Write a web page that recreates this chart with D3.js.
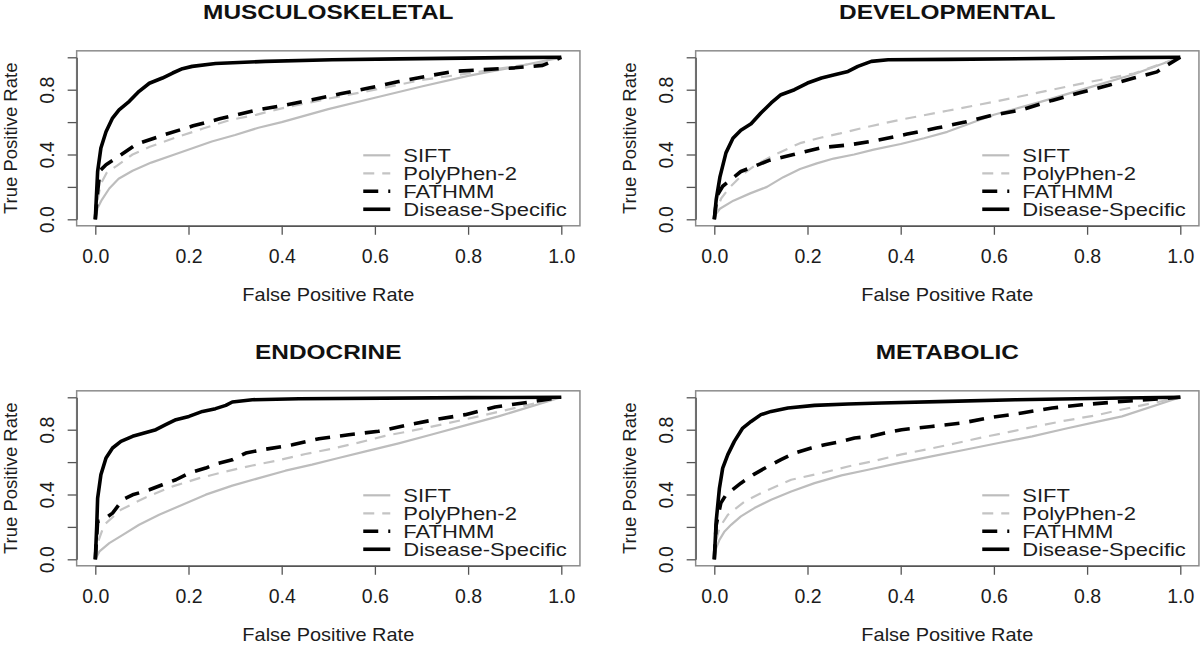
<!DOCTYPE html>
<html>
<head>
<meta charset="utf-8">
<script src="https://cdn.jsdelivr.net/npm/d3@7"></script>
<style>
  body { margin: 0; background: #fff; }
  svg { display: block; font-family: "Liberation Sans", Arial, sans-serif; }
</style>
</head>
<body>
<div id="chart"></div>
<script>
// ROC curves, four disease classes, four predictors each

const panelTitles = ['MUSCULOSKELETAL', 'DEVELOPMENTAL', 'ENDOCRINE', 'METABOLIC'];
const seriesNames = ['SIFT', 'PolyPhen-2', 'FATHMM', 'Disease-Specific'];
const xTicks = [0, 0.2, 0.4, 0.6, 0.8, 1.0];
const yTicks = [0, 0.2, 0.4, 0.6, 0.8, 1.0];
const yTickLabels = ['0.0', '', '0.4', '', '0.8', ''];

// [false positive rate, true positive rate]
const muscSift = [[0,0],[0.005,0.07],[0.014,0.12],[0.03,0.19],[0.05,0.25],[0.08,0.3],[0.12,0.35],[0.17,0.4],[0.21,0.44],[0.25,0.48],[0.3,0.52],[0.35,0.565],[0.4,0.6],[0.5,0.68],[0.6,0.75],[0.7,0.82],[0.8,0.885],[0.9,0.94],[1,1]];
const muscPoly = [[0,0],[0.005,0.12],[0.012,0.22],[0.025,0.29],[0.046,0.33],[0.08,0.4],[0.117,0.448],[0.174,0.506],[0.231,0.56],[0.288,0.612],[0.345,0.645],[0.4,0.685],[0.5,0.745],[0.6,0.8],[0.7,0.86],[0.8,0.9],[0.9,0.945],[0.95,0.965],[1,1]];
const muscFath = [[0,0],[0.005,0.17],[0.01,0.3],[0.023,0.337],[0.0385,0.366],[0.0885,0.464],[0.146,0.52],[0.21,0.577],[0.267,0.62],[0.345,0.674],[0.4,0.701],[0.465,0.738],[0.526,0.775],[0.587,0.81],[0.651,0.85],[0.712,0.884],[0.769,0.913],[0.822,0.922],[0.9,0.935],[0.96,0.95],[1,1]];
const muscDis = [[0,0],[0.005,0.295],[0.012,0.44],[0.023,0.54],[0.037,0.625],[0.051,0.676],[0.073,0.728],[0.094,0.79],[0.116,0.84],[0.144,0.872],[0.166,0.903],[0.187,0.93],[0.208,0.944],[0.258,0.962],[0.365,0.975],[0.508,0.985],[0.651,0.99],[0.88,0.998],[1,1]];

const devSift = [[0,0],[0.003,0.03],[0.012,0.065],[0.041,0.115],[0.077,0.16],[0.113,0.2],[0.148,0.26],[0.184,0.31],[0.22,0.345],[0.256,0.375],[0.3,0.4],[0.342,0.43],[0.4,0.465],[0.45,0.5],[0.5,0.54],[0.6,0.645],[0.7,0.725],[0.8,0.81],[0.9,0.895],[1,1]];
const devPoly = [[0,0],[0.005,0.06],[0.015,0.13],[0.034,0.2],[0.062,0.28],[0.091,0.34],[0.134,0.405],[0.184,0.47],[0.23,0.505],[0.27,0.53],[0.32,0.565],[0.4,0.615],[0.5,0.67],[0.6,0.725],[0.7,0.785],[0.8,0.845],[0.9,0.9],[0.95,0.95],[1,1]];
const devFath = [[0,0],[0.004,0.1],[0.007,0.151],[0.018,0.204],[0.057,0.295],[0.119,0.365],[0.17,0.4],[0.23,0.442],[0.291,0.46],[0.35,0.488],[0.414,0.526],[0.477,0.563],[0.538,0.6],[0.595,0.641],[0.66,0.676],[0.725,0.734],[0.782,0.78],[0.846,0.827],[0.9,0.872],[0.95,0.91],[0.965,0.94],[1,1]];
const devDis = [[0,0],[0.004,0.12],[0.012,0.26],[0.025,0.41],[0.04,0.5],[0.057,0.55],[0.079,0.59],[0.1,0.656],[0.122,0.718],[0.143,0.769],[0.172,0.8],[0.2,0.841],[0.23,0.872],[0.258,0.893],[0.287,0.913],[0.308,0.944],[0.337,0.975],[0.373,0.985],[0.502,0.987],[0.875,0.998],[1,1]];

const endoSift = [[0,0],[0.009,0.049],[0.03,0.1],[0.059,0.151],[0.094,0.213],[0.137,0.275],[0.187,0.337],[0.237,0.399],[0.294,0.455],[0.351,0.501],[0.408,0.547],[0.465,0.584],[0.522,0.625],[0.58,0.666],[0.651,0.716],[0.722,0.77],[0.794,0.827],[0.865,0.882],[1,1]];
const endoPoly = [[0,0],[0.005,0.1],[0.019,0.213],[0.055,0.306],[0.108,0.382],[0.166,0.45],[0.223,0.501],[0.28,0.542],[0.337,0.579],[0.394,0.612],[0.451,0.65],[0.508,0.683],[0.565,0.72],[0.622,0.762],[0.68,0.794],[0.758,0.841],[0.865,0.91],[1,1]];
const endoFath = [[0,0],[0.005,0.234],[0.015,0.24],[0.037,0.285],[0.059,0.368],[0.08,0.398],[0.116,0.429],[0.144,0.46],[0.173,0.491],[0.201,0.532],[0.237,0.563],[0.258,0.588],[0.294,0.614],[0.323,0.656],[0.358,0.676],[0.423,0.707],[0.48,0.744],[0.544,0.769],[0.608,0.79],[0.672,0.831],[0.729,0.862],[0.794,0.893],[0.858,0.94],[0.93,0.97],[1,1]];
const endoDis = [[0,0],[0.003,0.2],[0.005,0.377],[0.012,0.522],[0.023,0.625],[0.037,0.687],[0.055,0.728],[0.08,0.759],[0.105,0.779],[0.13,0.8],[0.151,0.831],[0.173,0.862],[0.201,0.882],[0.23,0.913],[0.258,0.93],[0.28,0.95],[0.294,0.971],[0.337,0.985],[0.437,0.991],[0.8,0.998],[1,1]];

const metaSift = [[0,0],[0.004,0.069],[0.011,0.12],[0.022,0.172],[0.036,0.213],[0.057,0.265],[0.086,0.316],[0.122,0.368],[0.165,0.419],[0.215,0.47],[0.273,0.518],[0.33,0.553],[0.395,0.594],[0.466,0.635],[0.538,0.676],[0.61,0.718],[0.682,0.759],[0.753,0.806],[0.825,0.851],[0.875,0.882],[1,1]];
const metaPoly = [[0,0],[0.004,0.12],[0.012,0.2],[0.029,0.274],[0.065,0.357],[0.108,0.419],[0.165,0.491],[0.23,0.532],[0.287,0.573],[0.344,0.608],[0.402,0.648],[0.459,0.68],[0.516,0.715],[0.574,0.752],[0.631,0.785],[0.689,0.82],[0.753,0.856],[0.818,0.888],[0.875,0.925],[1,1]];
const metaFath = [[0,0],[0.004,0.21],[0.014,0.347],[0.025,0.398],[0.057,0.47],[0.086,0.526],[0.115,0.573],[0.143,0.615],[0.172,0.656],[0.208,0.687],[0.237,0.707],[0.273,0.728],[0.301,0.749],[0.337,0.759],[0.366,0.779],[0.402,0.8],[0.466,0.82],[0.531,0.841],[0.595,0.876],[0.66,0.903],[0.725,0.934],[0.789,0.954],[0.861,0.971],[1,1]];
const metaDis = [[0,0],[0.004,0.234],[0.011,0.439],[0.018,0.563],[0.029,0.646],[0.043,0.728],[0.061,0.81],[0.079,0.851],[0.1,0.893],[0.122,0.913],[0.158,0.934],[0.215,0.95],[0.287,0.959],[0.359,0.965],[0.502,0.975],[0.646,0.985],[0.875,0.996],[1,1]];

const panelData = [
    [muscSift, muscPoly, muscFath, muscDis],
    [devSift, devPoly, devFath, devDis],
    [endoSift, endoPoly, endoFath, endoDis],
    [metaSift, metaPoly, metaFath, metaDis]
];

// line styles per series (SIFT, PolyPhen-2, FATHMM, Disease-Specific)
const styles = [
    { color: '#bdbdbd', width: 2.2, dash: null },
    { color: '#c4c4c4', width: 2.2, dash: '11,8' },
    { color: '#000', width: 3.6, dash: '15,10' },
    { color: '#000', width: 3.6, dash: null }
];

const W = 1200, H = 646;
const svg = d3.select('#chart').append('svg')
    .attr('width', W)
    .attr('height', H);

const textColor = '#1c1c1c';
const colX = [95.3, 714.3];
const rowY = [57.3, 397.3];
const plotW = 466, plotH = 162;

// the original text is a bit wider than the font: widen it horizontally
function stretch(sel, factor) {
    sel.each(function () {
        const len = this.getComputedTextLength();
        d3.select(this)
            .attr('textLength', len * factor)
            .attr('lengthAdjust', 'spacingAndGlyphs');
    });
}

panelTitles.forEach((title, i) => {
    const left = colX[i % 2];
    const top = rowY[Math.floor(i / 2)];
    const x = d3.scaleLinear().domain([0, 1]).range([left, left + plotW]);
    const y = d3.scaleLinear().domain([0, 1]).range([top + plotH, top]);
    // R-style 4% padding around the data range
    const bx0 = x(-0.04), bx1 = x(1.04), by0 = y(1.04), by1 = y(-0.04);
    const g = svg.append('g');

    // box
    g.append('rect')
        .attr('x', bx0).attr('y', by0)
        .attr('width', bx1 - bx0).attr('height', by1 - by0)
        .attr('fill', 'none')
        .attr('stroke', '#8c8c8c')
        .attr('stroke-width', 1.5);

    // x axis
    const xa = g.append('g')
        .attr('transform', `translate(0,${by1})`)
        .call(d3.axisBottom(x).tickValues(xTicks).tickFormat(d3.format('.1f'))
            .tickSize(9).tickSizeOuter(0).tickPadding(14));
    xa.select('.domain').attr('stroke', '#555').attr('stroke-width', 1.3);
    xa.selectAll('line').attr('stroke', '#555').attr('stroke-width', 1.3);
    xa.selectAll('text').attr('font-size', 19.5).attr('fill', textColor)
        .attr('font-family', '"Liberation Sans", Arial, sans-serif');

    // y axis with rotated labels
    const ya = g.append('g')
        .attr('transform', `translate(${bx0},0)`)
        .call(d3.axisLeft(y).tickValues(yTicks).tickFormat((d, k) => yTickLabels[k])
            .tickSize(9).tickSizeOuter(0));
    ya.select('.domain').attr('stroke', '#555').attr('stroke-width', 1.3);
    ya.selectAll('line').attr('stroke', '#555').attr('stroke-width', 1.3);
    ya.selectAll('text')
        .attr('x', null).attr('dy', null)
        .attr('transform', 'translate(-23,0) rotate(-90)')
        .attr('text-anchor', 'middle')
        .attr('font-size', 19.5).attr('fill', textColor)
        .attr('font-family', '"Liberation Sans", Arial, sans-serif');

    // titles
    g.append('text')
        .attr('x', (bx0 + bx1) / 2)
        .attr('y', top - 38)
        .attr('text-anchor', 'middle')
        .attr('font-size', 20)
        .attr('font-weight', 'bold')
        .attr('fill', '#111')
        .text(title)
        .call(stretch, 1.22);
    g.append('text')
        .attr('x', (bx0 + bx1) / 2)
        .attr('y', top + plotH + 82)
        .attr('text-anchor', 'middle')
        .attr('font-size', 19)
        .attr('fill', textColor)
        .text('False Positive Rate')
        .call(stretch, 1.05);
    g.append('text')
        .attr('transform', `translate(${left - 78},${top + plotH / 2}) rotate(-90)`)
        .attr('text-anchor', 'middle')
        .attr('font-size', 18.5)
        .attr('fill', textColor)
        .text('True Positive Rate');

    // curves
    const line = d3.line().x(d => x(d[0])).y(d => y(d[1]));
    panelData[i].forEach((pts, s) => {
        g.append('path')
            .datum(pts)
            .attr('fill', 'none')
            .attr('stroke', styles[s].color)
            .attr('stroke-width', styles[s].width)
            .attr('stroke-dasharray', styles[s].dash)
            .attr('stroke-linejoin', 'round')
            .attr('d', line);
    });

    // legend, bottom right
    seriesNames.forEach((name, s) => {
        const ly = y(0.395 - s * 0.111);
        g.append('line')
            .attr('x1', x(0.575)).attr('x2', x(0.633))
            .attr('y1', ly).attr('y2', ly)
            .attr('stroke', styles[s].color)
            .attr('stroke-width', styles[s].width)
            .attr('stroke-dasharray', styles[s].dash);
        g.append('text')
            .attr('x', x(0.661))
            .attr('y', ly + 6.5)
            .attr('font-size', 18)
            .attr('fill', textColor)
            .text(name)
            .call(stretch, 1.22);
    });
});
</script>
</body>
</html>
